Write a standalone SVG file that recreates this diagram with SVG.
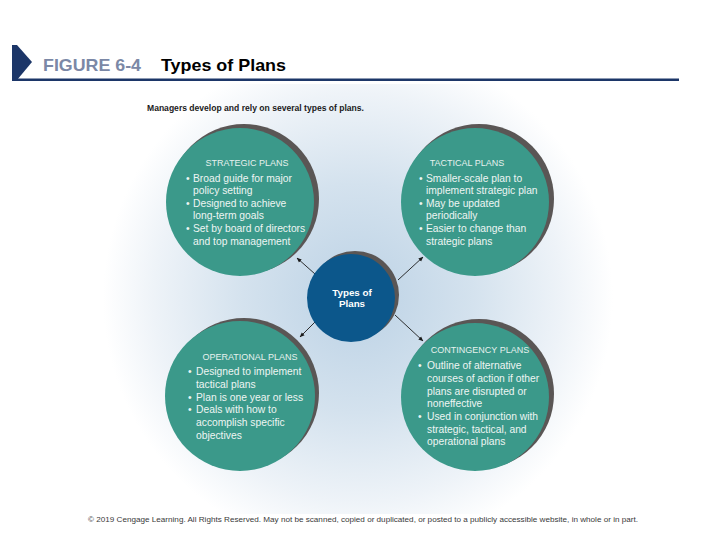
<svg xmlns="http://www.w3.org/2000/svg" width="720" height="540" viewBox="0 0 720 540">
<defs>
<radialGradient id="glow" cx="358" cy="298" r="255" gradientUnits="userSpaceOnUse">
<stop offset="0" stop-color="#bcd2e5"/>
<stop offset="0.45" stop-color="#d4e2ee"/>
<stop offset="0.8" stop-color="#eef3f8"/>
<stop offset="1" stop-color="#ffffff"/>
</radialGradient>
<marker id="ah" viewBox="0 0 10 10" refX="9" refY="5" markerWidth="5" markerHeight="5" orient="auto" markerUnits="userSpaceOnUse">
<path d="M0,1 L10,5 L0,9 z" fill="#1a1a1a"/>
</marker>
<style>
.shadow{fill:#5a5655}
.plan{fill:#3b998a}
.hub{fill:#0c578b}
.ttl{font-family:"Liberation Sans",Arial,sans-serif;font-size:9px;fill:#e6f1ee}
.txt{font-family:"Liberation Sans",Arial,sans-serif;font-size:10.3px;fill:#eef5f3}
.hubt{font-family:"Liberation Sans",Arial,sans-serif;font-size:9.8px;font-weight:bold;fill:#ffffff}
.conn{stroke:#1a1a1a;stroke-width:0.9;fill:none;marker-end:url(#ah)}
</style>
</defs>
<rect width="720" height="540" fill="#ffffff"/>
<rect x="90" y="84" width="540" height="430" fill="url(#glow)"/>

<g id="header">
<polygon points="12,45 17,45 32,62 17,80 12,80" fill="#1c3668"/>
<rect x="12" y="78.5" width="667" height="2.5" fill="#1c3668"/>
<text x="43" y="70.5" font-family="Liberation Sans,Arial,sans-serif" font-size="16.5" font-weight="bold" fill="#7b88a6" textLength="98" lengthAdjust="spacingAndGlyphs">FIGURE 6-4</text>
<text x="161" y="70.5" font-family="Liberation Sans,Arial,sans-serif" font-size="16.5" font-weight="bold" fill="#000000" textLength="125" lengthAdjust="spacingAndGlyphs">Types of Plans</text>
</g>

<text x="147" y="111" font-family="Liberation Sans,Arial,sans-serif" font-size="9" font-weight="bold" fill="#1a1a1a" textLength="217" lengthAdjust="spacingAndGlyphs">Managers develop and rely on several types of plans.</text>

<g id="connectors">
<line class="conn" x1="315" y1="274" x2="297" y2="258"/>
<line class="conn" x1="398" y1="280" x2="423" y2="257"/>
<line class="conn" x1="315" y1="322" x2="300" y2="337"/>
<line class="conn" x1="395" y1="315" x2="423" y2="341"/>
</g>

<g id="strategic">
<circle class="shadow" cx="244" cy="199" r="75"/>
<circle class="plan" cx="240" cy="202" r="74"/>
<text class="ttl" x="247" y="166" text-anchor="middle">STRATEGIC PLANS</text>
<text class="txt" x="186" y="181.5">•</text>
<text class="txt" x="193" y="181.5">Broad guide for major</text>
<text class="txt" x="193" y="194">policy setting</text>
<text class="txt" x="186" y="206.5">•</text>
<text class="txt" x="193" y="206.5">Designed to achieve</text>
<text class="txt" x="193" y="219">long-term goals</text>
<text class="txt" x="186" y="232">•</text>
<text class="txt" x="193" y="232">Set by board of directors</text>
<text class="txt" x="193" y="245">and top management</text>
</g>

<g id="tactical">
<circle class="shadow" cx="479" cy="199" r="75"/>
<circle class="plan" cx="475" cy="202" r="74"/>
<text class="ttl" x="467" y="166" text-anchor="middle">TACTICAL PLANS</text>
<text class="txt" x="419" y="181.5">•</text>
<text class="txt" x="426" y="181.5">Smaller-scale plan to</text>
<text class="txt" x="426" y="194">implement strategic plan</text>
<text class="txt" x="419" y="206.5">•</text>
<text class="txt" x="426" y="206.5">May be updated</text>
<text class="txt" x="426" y="219">periodically</text>
<text class="txt" x="419" y="232">•</text>
<text class="txt" x="426" y="232">Easier to change than</text>
<text class="txt" x="426" y="245">strategic plans</text>
</g>

<g id="operational">
<circle class="shadow" cx="244" cy="393" r="75"/>
<circle class="plan" cx="240" cy="396" r="75"/>
<text class="ttl" x="250" y="359.5" text-anchor="middle">OPERATIONAL PLANS</text>
<text class="txt" x="188" y="375">•</text>
<text class="txt" x="196" y="375">Designed to implement</text>
<text class="txt" x="196" y="388">tactical plans</text>
<text class="txt" x="188" y="400.5">•</text>
<text class="txt" x="196" y="400.5">Plan is one year or less</text>
<text class="txt" x="188" y="413">•</text>
<text class="txt" x="196" y="413">Deals with how to</text>
<text class="txt" x="196" y="426">accomplish specific</text>
<text class="txt" x="196" y="439">objectives</text>
</g>

<g id="contingency">
<circle class="shadow" cx="479" cy="394" r="75"/>
<circle class="plan" cx="475" cy="397" r="74"/>
<text class="ttl" x="480" y="352.5" text-anchor="middle">CONTINGENCY PLANS</text>
<text class="txt" x="418" y="368.5">•</text>
<text class="txt" x="427" y="368.5">Outline of alternative</text>
<text class="txt" x="427" y="381.5">courses of action if other</text>
<text class="txt" x="427" y="394.5">plans are disrupted or</text>
<text class="txt" x="427" y="407">noneffective</text>
<text class="txt" x="418" y="419.5">•</text>
<text class="txt" x="427" y="419.5">Used in conjunction with</text>
<text class="txt" x="427" y="432.5">strategic, tactical, and</text>
<text class="txt" x="427" y="445">operational plans</text>
</g>

<g id="hub">
<circle class="shadow" cx="355" cy="295" r="44"/>
<circle class="hub" cx="351" cy="298" r="44"/>
<text class="hubt" x="352" y="295.5" text-anchor="middle">Types of</text>
<text class="hubt" x="352" y="307" text-anchor="middle">Plans</text>
</g>

<text x="88" y="521.5" font-family="Liberation Sans,Arial,sans-serif" font-size="7" fill="#3a3a3a" textLength="550" lengthAdjust="spacingAndGlyphs">© 2019 Cengage Learning. All Rights Reserved. May not be scanned, copied or duplicated, or posted to  a publicly accessible website, in whole or in part.</text>
</svg>
